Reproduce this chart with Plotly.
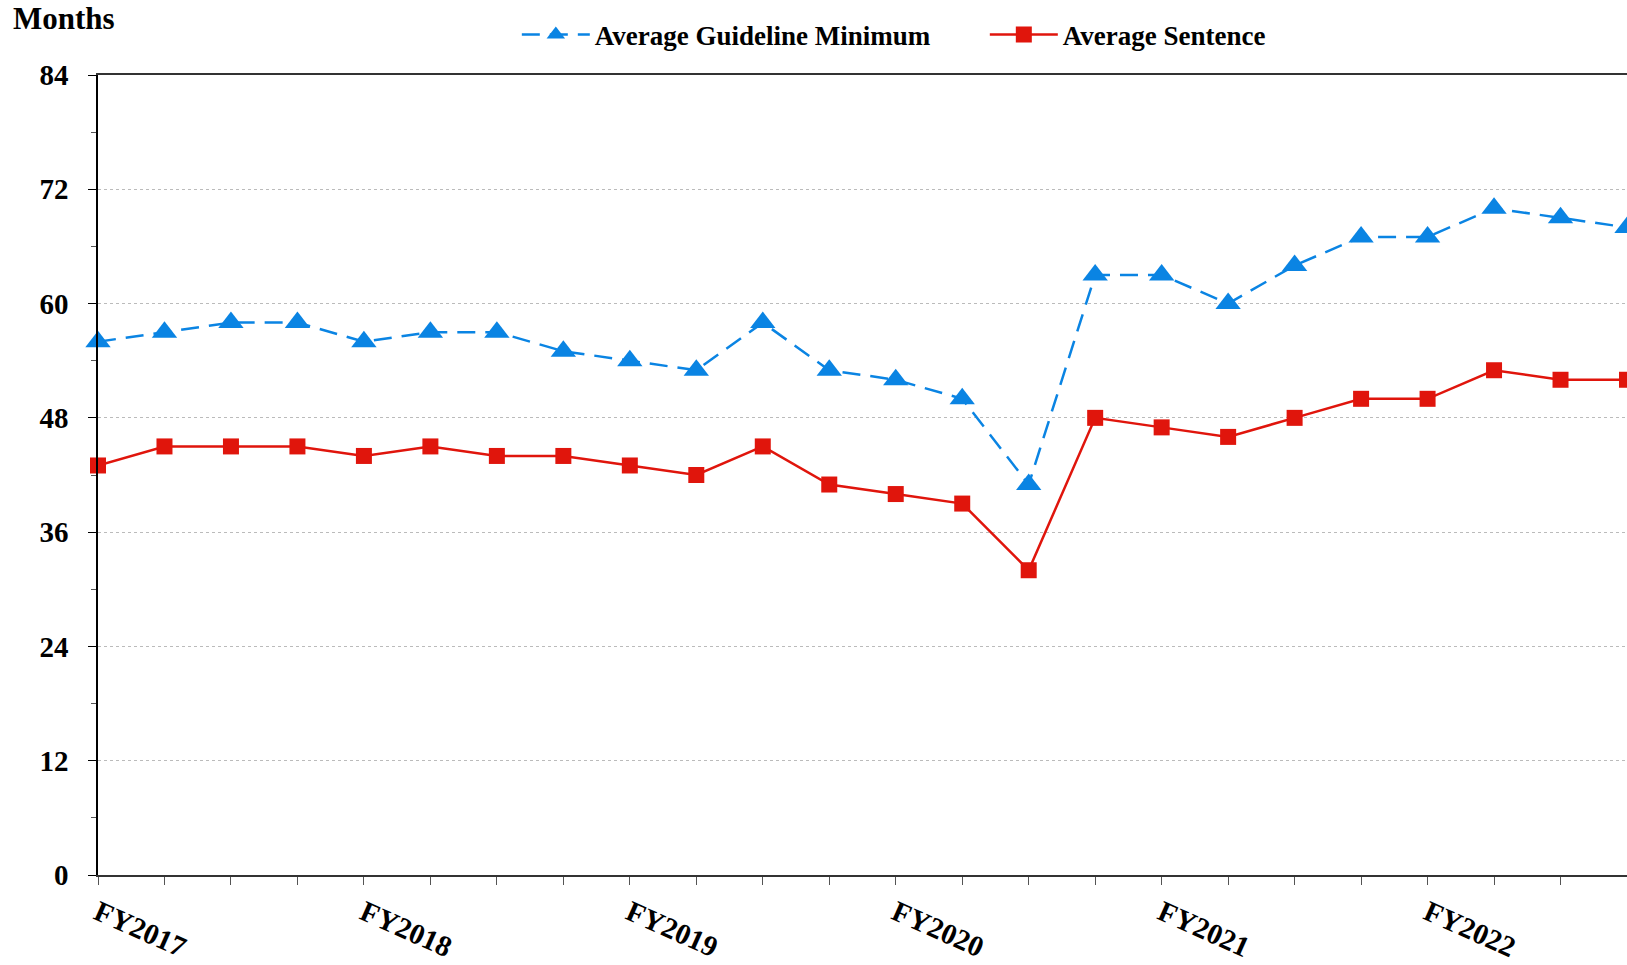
import plotly.graph_objects as go

BLUE = '#0A84E3'
RED = '#E0150C'
FONT = 'Liberation Serif'

quarters = ['FY2017', '', '', '', 'FY2018', '', '', '', 'FY2019', '', '', '',
            'FY2020', '', '', '', 'FY2021', '', '', '', 'FY2022', '', '', '']
guideline_min = [56, 57, 58, 58, 56, 57, 57, 55, 54, 53, 58, 53,
                 52, 50, 41, 63, 63, 60, 64, 67, 67, 70, 69, 68]
avg_sentence = [43, 45, 45, 45, 44, 45, 44, 44, 43, 42, 45, 41,
                40, 39, 32, 48, 47, 46, 48, 50, 50, 53, 52, 52]
y_ticks = [0, 12, 24, 36, 48, 60, 72, 84]

x = list(range(len(quarters)))

fig = go.Figure()
fig.add_scatter(x=x, y=guideline_min, name='Average Guideline Minimum', mode='lines+markers',
                line=dict(color=BLUE, width=2.5, dash='18px,10px'),
                marker=dict(symbol='triangle-up', size=22, color=BLUE), cliponaxis=False)
fig.add_scatter(x=x, y=avg_sentence, name='Average Sentence', mode='lines+markers',
                line=dict(color=RED, width=2.5),
                marker=dict(symbol='square', size=16, color=RED), cliponaxis=False)

fig.update_layout(
    width=1627, height=965,
    margin=dict(l=98, r=0, t=75, b=90),
    plot_bgcolor='white', paper_bgcolor='white',
    font=dict(family=FONT, color='black', size=26),
    showlegend=True,
    legend=dict(orientation='h', x=0.58, xanchor='center', y=1.05, yanchor='middle',
                font=dict(family=FONT, size=27, weight='bold'), itemwidth=68,
                entrywidth=385),
    annotations=[dict(text='<b>Months</b>', x=-0.057, y=1.07, xref='paper', yref='paper',
                      xanchor='left', yanchor='middle', showarrow=False,
                      font=dict(family=FONT, size=31))],
)
fig.update_xaxes(range=[0, 23], tickvals=x, ticktext=[f'<b>{q}</b>' if q else '' for q in quarters],
                 tickangle=24, ticks='outside', ticklen=8, tickcolor='#555',
                 showline=True, linecolor='#333', linewidth=1.5, mirror=True, automargin=False,
                 showgrid=False, zeroline=False, tickfont=dict(size=29))
fig.update_yaxes(range=[0, 84], tickvals=y_ticks, ticktext=[f'<b>{v}</b>' for v in y_ticks],
                 ticks='outside', ticklen=8, tickcolor='black', ticklabelstandoff=14,
                 minor=dict(dtick=6, ticks='outside', ticklen=5, tickcolor='#555', showgrid=False),
                 showline=True, linecolor='black', linewidth=1.5, automargin=False,
                 showgrid=True, gridcolor='#bbbbbb', griddash='dot', gridwidth=1,
                 zeroline=False, tickfont=dict(size=29))

# drop the page's default body margin so the figure fills the window exactly
fig.write_html('out.html', config={'displayModeBar': False},
               post_script="document.body.style.margin='0';")
